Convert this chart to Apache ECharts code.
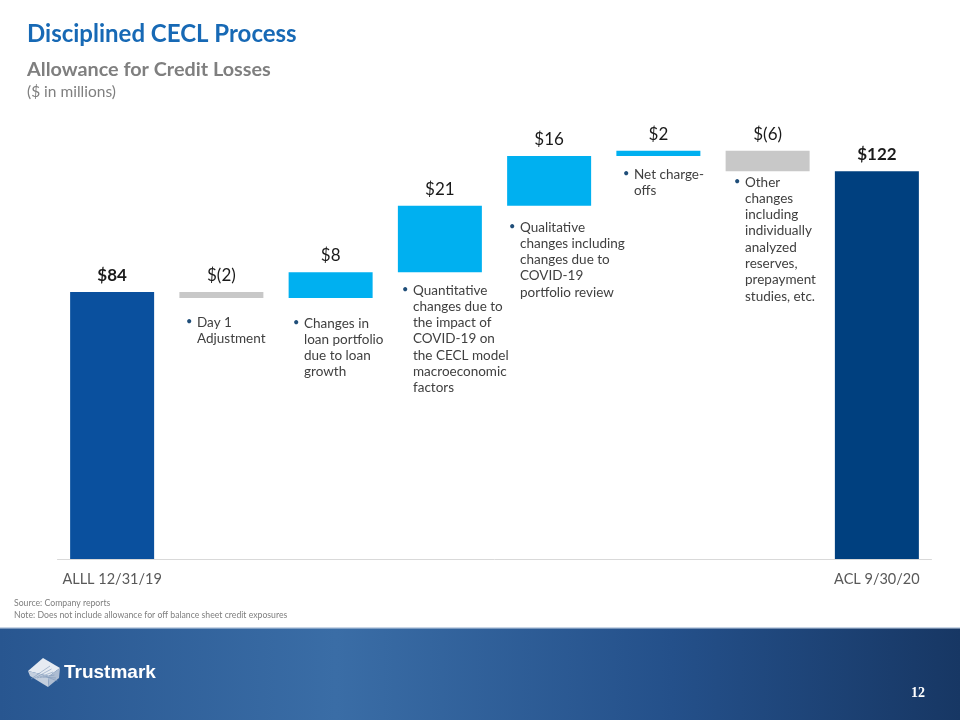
<!DOCTYPE html>
<html>
<head>
<meta charset="utf-8">
<script src="https://cdn.jsdelivr.net/npm/echarts@6/dist/echarts.min.js"></script>
<style>
html,body{margin:0;padding:0;background:#fff;}
#chart{width:960px;height:720px;}
</style>
</head>
<body>
<div id="chart"></div>
<script>
// ---- data ----
var categories = ["ALLL 12/31/19", "Day 1 Adjustment", "Loan growth", "Quantitative changes", "Qualitative changes", "Net charge-offs", "Other changes", "ACL 9/30/20"];
var tickLabels = ["ALLL 12/31/19", "", "", "", "", "", "", "ACL 9/30/20"];
var startValue = 84;
var deltas = [-1.9, 8.1, 20.9, 15.7, 1.6, -6.4];
var endValue = 122;
var valueLabels = ["$84", "$(2)", "$8", "$21", "$16", "$2", "$(6)", "$122"];

// ---- build waterfall (base + visible part) ----
var baseData = [0];
var barData = [startValue];
var running = startValue;
for (var i = 0; i < deltas.length; i++) {
  var d = deltas[i];
  if (d >= 0) { baseData.push(running); barData.push(d); running += d; }
  else { running += d; baseData.push(running); barData.push(-d); }
}
baseData.push(0); barData.push(endValue);

var colStart = '#0a509e', colEnd = '#00407f', colUp = '#00b0f0', colDown = '#c8c8c8';
var FONT = 'Lato, "Open Sans", sans-serif';

var items = barData.map(function (v, idx) {
  var color;
  if (idx === 0) color = colStart;
  else if (idx === barData.length - 1) color = colEnd;
  else color = deltas[idx - 1] >= 0 ? colUp : colDown;
  var bold = (idx === 0 || idx === barData.length - 1);
  return {
    value: v,
    itemStyle: { color: color },
    label: { fontWeight: bold ? 'bold' : 'normal', fontSize: 17, distance: 8 }
  };
});

var chart = echarts.init(document.getElementById('chart'), null, { renderer: 'canvas' });

function bulletBlock(x, y, lines) {
  var els = [];
  els.push({ type: 'text', left: x - 11, top: y - 6, style: { text: '\u2022', fill: '#1f4e79', font: '11px ' + FONT } });
  els.push({ type: 'text', left: x, top: y - 8, style: { text: lines.join('\n'), fill: '#404040', font: '13.5px ' + FONT, lineHeight: 16.3 } });
  return els;
}

var graphics = [];
// titles
graphics.push({ type: 'text', left: 27, top: 22, style: { text: 'Disciplined CECL Process', fill: '#1769b5', font: 'bold 24px ' + FONT } });
graphics.push({ type: 'text', left: 27, top: 60, style: { text: 'Allowance for Credit Losses', fill: '#7f7f7f', font: 'bold 19.8px ' + FONT } });
graphics.push({ type: 'text', left: 27, top: 84, style: { text: '($ in millions)', fill: '#7f7f7f', font: '15.5px ' + FONT } });
// annotations
graphics = graphics.concat(bulletBlock(197, 322, ['Day 1', 'Adjustment']));
graphics = graphics.concat(bulletBlock(304, 323, ['Changes in', 'loan portfolio', 'due to loan', 'growth']));
graphics = graphics.concat(bulletBlock(413, 290, ['Quantitative', 'changes due to', 'the impact of', 'COVID-19 on', 'the CECL model', 'macroeconomic', 'factors']));
graphics = graphics.concat(bulletBlock(520, 227, ['Qualitative', 'changes including', 'changes due to', 'COVID-19', 'portfolio review']));
graphics = graphics.concat(bulletBlock(634, 174, ['Net charge-', 'offs']));
graphics = graphics.concat(bulletBlock(745, 182, ['Other', 'changes', 'including', 'individually', 'analyzed', 'reserves,', 'prepayment', 'studies, etc.']));
// source notes
graphics.push({ type: 'text', left: 14, top: 599, style: { text: 'Source: Company reports', fill: '#7f7f7f', font: '8.7px ' + FONT } });
graphics.push({ type: 'text', left: 14, top: 611, style: { text: 'Note: Does not include allowance for off balance sheet credit exposures', fill: '#7f7f7f', font: '8.7px ' + FONT } });
// footer band
graphics.push({ type: 'rect', left: 0, top: 628, shape: { width: 960, height: 92 }, z: 1,
  style: { fill: { type: 'linear', x: 0, y: 0, x2: 1, y2: 0, colorStops: [
    { offset: 0, color: '#285690' }, { offset: 0.35, color: '#3a6da6' }, { offset: 0.7, color: '#24508a' }, { offset: 1, color: '#173764' } ] } } });
graphics.push({ type: 'rect', left: 0, top: 627, shape: { width: 960, height: 1.5 }, z: 2, style: { fill: '#c9d6e6' } });
// logo icon (approximation)
graphics.push({ type: 'polygon', z: 3, shape: { points: [[28, 671], [43, 658], [60, 668], [49, 676]] }, style: { fill: '#e6ebf2' } });
graphics.push({ type: 'polygon', z: 3, shape: { points: [[28, 671], [49, 676], [48, 687], [30, 676]] }, style: { fill: '#c4cfde' } });
graphics.push({ type: 'polygon', z: 3, shape: { points: [[49, 676], [60, 668], [59, 678], [48, 687]] }, style: { fill: '#aebdd2' } });
for (var s = 0; s < 6; s++) {
  graphics.push({ type: 'line', z: 4, shape: { x1: 31 + s * 3, y1: 677 - s * 0.5 + 2, x2: 50 + s * 1.5, y2: 666 + s * 3 }, style: { stroke: '#7f98b8', lineWidth: 0.6 } });
}
graphics.push({ type: 'text', left: 64, top: 663, z: 3, style: { text: 'Trustmark', fill: '#ffffff', font: 'bold 19px "Liberation Sans", Arial, sans-serif' } });
graphics.push({ type: 'text', left: 911, top: 686, z: 3, style: { text: '12', fill: '#ffffff', font: 'bold 14px "Liberation Serif", "DejaVu Serif", serif' } });

var option = {
  animation: false,
  backgroundColor: '#ffffff',
  textStyle: { fontFamily: FONT },
  grid: { left: 57.5, right: 28.5, top: 114, bottom: 161, containLabel: false },
  xAxis: {
    type: 'category',
    data: categories,
    axisLine: { show: true, lineStyle: { color: '#d9d9d9', width: 1 } },
    axisTick: { show: false },
    axisLabel: { interval: 0, margin: 13, color: '#595959', fontSize: 14.5, fontFamily: FONT,
      formatter: function (v, i) { return tickLabels[i]; } }
  },
  yAxis: { type: 'value', min: 0, max: 140, show: false, splitLine: { show: false } },
  series: [
    { type: 'bar', stack: 'wf', data: baseData, barWidth: 84, itemStyle: { color: 'transparent' }, silent: true },
    { type: 'bar', stack: 'wf', data: items, barWidth: 84,
      label: { show: true, position: 'top', color: '#1a1a1a', fontFamily: FONT, fontSize: 17,
        formatter: function (p) { return valueLabels[p.dataIndex]; } } }
  ],
  graphic: graphics
};
chart.setOption(option);
</script>
</body>
</html>
